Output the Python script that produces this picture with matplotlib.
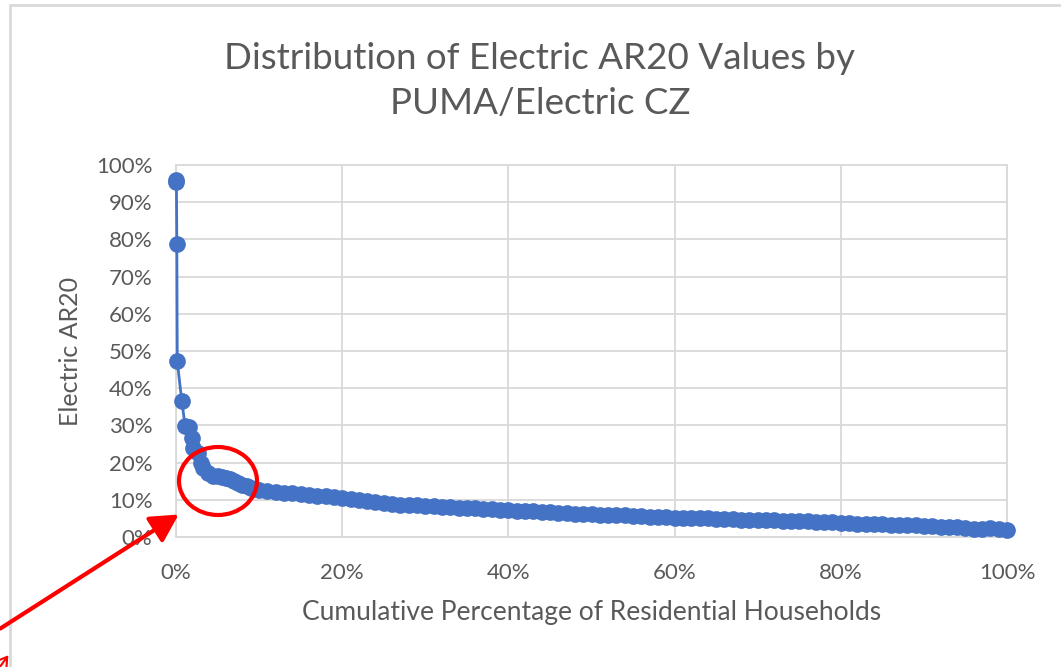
import numpy as np
import matplotlib.pyplot as plt
from matplotlib.patches import Ellipse, Rectangle, FancyArrowPatch

plt.rcParams['font.family'] = ['Lato', 'DejaVu Sans']

# cumulative share of residential households (%) and electric AR20 (%)
cum_pct = [0.0, 0.05, 0.1, 0.15, 0.7, 1.1, 1.6, 1.9, 2.1, 2.6, 3.0, 3.3, 3.8,
           4.4, 5.0, 5.5, 6.0, 6.5, 7.0, 7.5, 8.0, 8.5, 9.0, 9.5,
           10, 11, 12, 13, 14, 15, 16, 17, 18, 19, 20, 21, 22, 23, 24, 25,
           26, 27, 28, 29, 30, 31, 32, 33, 34, 35, 36, 37, 38, 39, 40, 41,
           42, 43, 44, 45, 46, 47, 48, 49, 50, 51, 52, 53, 54, 55, 56, 57,
           58, 59, 60, 61, 62, 63, 64, 65, 66, 67, 68, 69, 70, 71, 72, 73,
           74, 75, 76, 77, 78, 79, 80, 81, 82, 83, 84, 85, 86, 87, 88, 89,
           90, 91, 92, 93, 94, 95, 96, 97, 98, 99, 100]
ar20 = [96.0, 95.5, 78.7, 47.2, 36.5, 29.8, 29.6, 26.5, 24.0, 22.5, 20.0, 18.5,
        17.2, 16.5, 16.4, 16.2, 15.8, 15.5, 15.1, 14.6, 14.1, 13.6, 13.2, 12.9,
        12.6, 12.3, 12.1, 11.9, 11.7, 11.5, 11.3, 11.1, 10.9, 10.7, 10.4, 10.1,
        9.9, 9.6, 9.3, 9.1, 8.9, 8.7, 8.6, 8.5, 8.4, 8.2, 8.1, 8.0, 7.9, 7.8,
        7.7, 7.5, 7.4, 7.3, 7.2, 7.1, 7.0, 6.9, 6.8, 6.6, 6.5, 6.4, 6.3, 6.2,
        6.1, 6.0, 5.9, 5.9, 5.8, 5.7, 5.6, 5.5, 5.4, 5.3, 5.2, 5.1, 5.1, 5.0,
        5.0, 4.9, 4.9, 4.8, 4.7, 4.7, 4.6, 4.5, 4.5, 4.4, 4.3, 4.3, 4.2, 4.1,
        4.0, 3.9, 3.8, 3.7, 3.6, 3.6, 3.5, 3.4, 3.3, 3.2, 3.1, 3.1, 3.0, 2.9,
        2.8, 2.7, 2.6, 2.4, 2.2, 2.1, 2.4, 2.1, 1.9]

x_ticks = [0, 20, 40, 60, 80, 100]
y_ticks = [0, 10, 20, 30, 40, 50, 60, 70, 80, 90, 100]

W, H = 1061, 667
fig = plt.figure(figsize=(W / 100, H / 100), dpi=100)
ax = fig.add_axes([176 / W, 1 - 537 / H, (1007 - 176) / W, (537 - 165) / H])

grid_c = '#D9D9D9'
text_c = '#595959'
blue = '#4472C4'
red = '#FF0000'

ax.plot(cum_pct, ar20, color=blue, lw=2, marker='o', ms=11, mec=blue, mfc=blue,
        clip_on=False, zorder=3)

ax.set_xlim(0, 100)
ax.set_ylim(0, 100)
ax.set_xticks(x_ticks)
ax.set_yticks(y_ticks)
ax.set_xticklabels([f'{t}%' for t in x_ticks])
ax.set_yticklabels([f'{t}%' for t in y_ticks])
ax.grid(True, color=grid_c, lw=1.3)
ax.set_axisbelow(True)
for s in ax.spines.values():
    s.set_color(grid_c)
    s.set_linewidth(1.3)
ax.tick_params(length=0, labelsize=16, colors=text_c)
ax.tick_params(axis='y', pad=17)
ax.tick_params(axis='x', pad=19)

ax.set_xlabel('Cumulative Percentage of Residential Households', fontsize=19,
              color=text_c, labelpad=12)
ax.set_ylabel('Electric AR20', fontsize=18, color=text_c, labelpad=10)

fig.text(540 / W, 1 - 81 / H, 'Distribution of Electric AR20 Values by\nPUMA/Electric CZ',
         ha='center', va='center', fontsize=26.5, color=text_c, linespacing=1.45)

# chart border (only left and top edges are in view)
fig.patches.append(Rectangle((10 / W, -0.1), 1.2, 1 - 5 / H + 0.1, transform=fig.transFigure,
                             fill=False, ec=grid_c, lw=2))

# red annotation circle
fig.patches.append(Ellipse((218 / W, 1 - 481 / H), 78 / W, 68 / H, transform=fig.transFigure,
                           fill=False, ec=red, lw=3, zorder=5))

# red arrows
fig.patches.append(FancyArrowPatch((-2 / W, 1 - 630 / H), (181 / W, 1 - 513 / H),
                                   transform=fig.transFigure,
                                   arrowstyle='-|>,head_length=1.2,head_width=0.65',
                                   color=red, lw=3, mutation_scale=14))
fig.patches.append(FancyArrowPatch((-6 / W, 1 - 675 / H), (10 / W, 1 - 653 / H),
                                   transform=fig.transFigure,
                                   arrowstyle='->,head_length=0.8,head_width=0.5',
                                   color=red, lw=1.5, mutation_scale=12))

fig.savefig('out.png', dpi=100)
